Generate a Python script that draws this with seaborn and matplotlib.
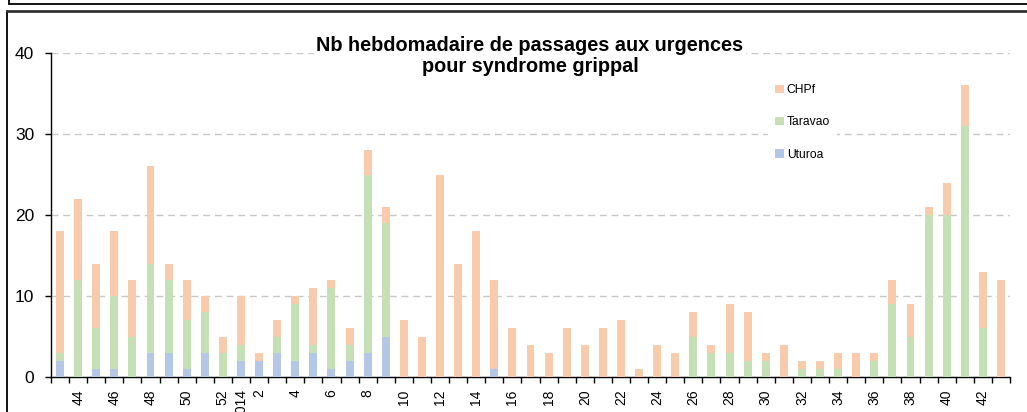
import numpy as np
import matplotlib
matplotlib.use("Agg")
import matplotlib.pyplot as plt
import matplotlib.patches as mpatches
from matplotlib.lines import Line2D
from matplotlib.ticker import FixedLocator, NullFormatter, FixedFormatter
import seaborn as sns

# ---- data ----
weeks = ["43", "44", "45", "46", "47", "48", "49", "50", "51", "52",
         "2014", "2", "3", "4", "5", "6", "7", "8", "9", "10",
         "11", "12", "13", "14", "15", "16", "17", "18", "19", "20",
         "21", "22", "23", "24", "25", "26", "27", "28", "29", "30",
         "31", "32", "33", "34", "35", "36", "37", "38", "39", "40",
         "41", "42", "43b"]
tick_labels = ["", "44", "", "46", "", "48", "", "50", "", "52",
               "2014", "2", "", "4", "", "6", "", "8", "", "10",
               "", "12", "", "14", "", "16", "", "18", "", "20",
               "", "22", "", "24", "", "26", "", "28", "", "30",
               "", "32", "", "34", "", "36", "", "38", "", "40",
               "", "42", ""]
uturoa = [2, 0, 1, 1, 0, 3, 3, 1, 3, 0,
          2, 2, 3, 2, 3, 1, 2, 3, 5, 0,
          0, 0, 0, 0, 1, 0, 0, 0, 0, 0,
          0, 0, 0, 0, 0, 0, 0, 0, 0, 0,
          0, 0, 0, 0, 0, 0, 0, 0, 0, 0,
          0, 0, 0]
taravao = [1, 12, 5, 9, 5, 11, 9, 6, 5, 3,
           2, 0, 2, 7, 1, 10, 2, 22, 14, 0,
           0, 0, 0, 0, 0, 0, 0, 0, 0, 0,
           0, 0, 0, 0, 0, 5, 3, 3, 2, 2,
           0, 1, 1, 1, 0, 2, 9, 5, 20, 20,
           31, 6, 0]
chpf = [15, 10, 8, 8, 7, 12, 2, 5, 2, 2,
        6, 1, 2, 1, 7, 1, 2, 3, 2, 7,
        5, 25, 14, 18, 11, 6, 4, 3, 6, 4,
        6, 7, 1, 4, 3, 3, 1, 6, 6, 1,
        4, 1, 1, 2, 3, 1, 3, 4, 1, 4,
        5, 7, 12]

series_names = ["CHPf", "Taravao", "Uturoa"]
colors = {"CHPf": "#F8CBAD", "Taravao": "#C5E0B4", "Uturoa": "#B4C7E7"}

sns.set_theme(style="white")
plt.rcParams["font.family"] = ["Liberation Sans", "DejaVu Sans"]
plt.rcParams["text.color"] = "black"
plt.rcParams["xtick.color"] = "black"
plt.rcParams["ytick.color"] = "black"
plt.rcParams["axes.labelcolor"] = "black"

W, H = 1027, 412
fig = plt.figure(figsize=(W / 100, H / 100), dpi=100)
fig.patch.set_facecolor("white")

# outer frames
fig.add_artist(Line2D([9 / W, 9 / W], [1, 1 - 4 / H], transform=fig.transFigure, color="black", lw=1.3))
fig.add_artist(Line2D([9 / W, 1], [1 - 4 / H, 1 - 4 / H], transform=fig.transFigure, color="black", lw=1.3))
fig.add_artist(Line2D([7 / W, 7 / W], [0, 1 - 11 / H], transform=fig.transFigure, color="black", lw=1.3))
fig.add_artist(Line2D([7 / W, 1], [1 - 11 / H, 1 - 11 / H], transform=fig.transFigure, color="#333333", lw=2.0))

ax = fig.add_axes([51 / W, 35 / H, 959 / W, 324 / H])
ax.set_facecolor("white")

u = np.array(uturoa)
t = np.array(taravao)
c = np.array(chpf)
layers = [("CHPf", u + t + c), ("Taravao", u + t), ("Uturoa", u)]
for name, vals in layers:
    sns.barplot(x=weeks, y=vals, color=colors[name], width=0.44, saturation=1,
                errorbar=None, ax=ax, zorder=3, linewidth=0, edgecolor="none")

ax.set_xlim(-0.5, len(weeks) - 0.5)
ax.set_ylim(0, 40)
ax.set_yticks([0, 10, 20, 30, 40])
ax.set_xlabel("")
ax.set_ylabel("")

ax.yaxis.grid(True, linestyle=(0, (5, 3.4)), color="#c8c8c8", lw=1.0, zorder=0)
ax.xaxis.grid(False)
ax.set_axisbelow(True)

for s in ["top", "right"]:
    ax.spines[s].set_visible(False)
for s in ["left", "bottom"]:
    ax.spines[s].set_visible(True)
    ax.spines[s].set_color("black")
    ax.spines[s].set_linewidth(1.0)

# x ticks: marks at category boundaries, labels at centers
ax.xaxis.set_major_locator(FixedLocator(np.arange(-0.5, len(weeks), 1.0)))
ax.xaxis.set_major_formatter(NullFormatter())
ax.xaxis.set_minor_locator(FixedLocator(np.arange(len(weeks))))
ax.xaxis.set_minor_formatter(FixedFormatter(tick_labels))
ax.tick_params(axis="x", which="major", direction="out", length=4, width=1, color="black", bottom=True)
ax.tick_params(axis="x", which="minor", length=0, pad=9, labelsize=10, labelrotation=90, bottom=True,
               labelcolor="black")
ax.tick_params(axis="y", which="major", direction="out", length=4, width=1, color="black",
               left=True, pad=8, labelsize=12.5, labelcolor="black")
for lab in ax.xaxis.get_minorticklabels():
    lab.set_va("top")
    lab.set_ha("center")

# title
fig.text(530 / W, 1 - 56 / H, "Nb hebdomadaire de passages aux urgences\npour syndrome grippal",
         ha="center", va="center", fontsize=14.3, fontweight="bold", linespacing=1.1, color="black",
         bbox=dict(facecolor="white", edgecolor="none", pad=2), zorder=5)

# legend
handles = [mpatches.Patch(facecolor=colors[n], edgecolor="none", label=n) for n in series_names]
leg = ax.legend(handles=handles, loc="upper left", bbox_to_anchor=(768 / W, 1 - 77 / H),
                bbox_transform=fig.transFigure, fontsize=8.75, frameon=True, facecolor="white",
                edgecolor="none", framealpha=1, handlelength=0.7, handleheight=0.7,
                handletextpad=0.25, labelspacing=1.66, borderpad=0.6, borderaxespad=0, fancybox=False)
for txt in leg.get_texts():
    txt.set_color("black")
leg.set_zorder(6)

fig.savefig("out.png", dpi=100)
